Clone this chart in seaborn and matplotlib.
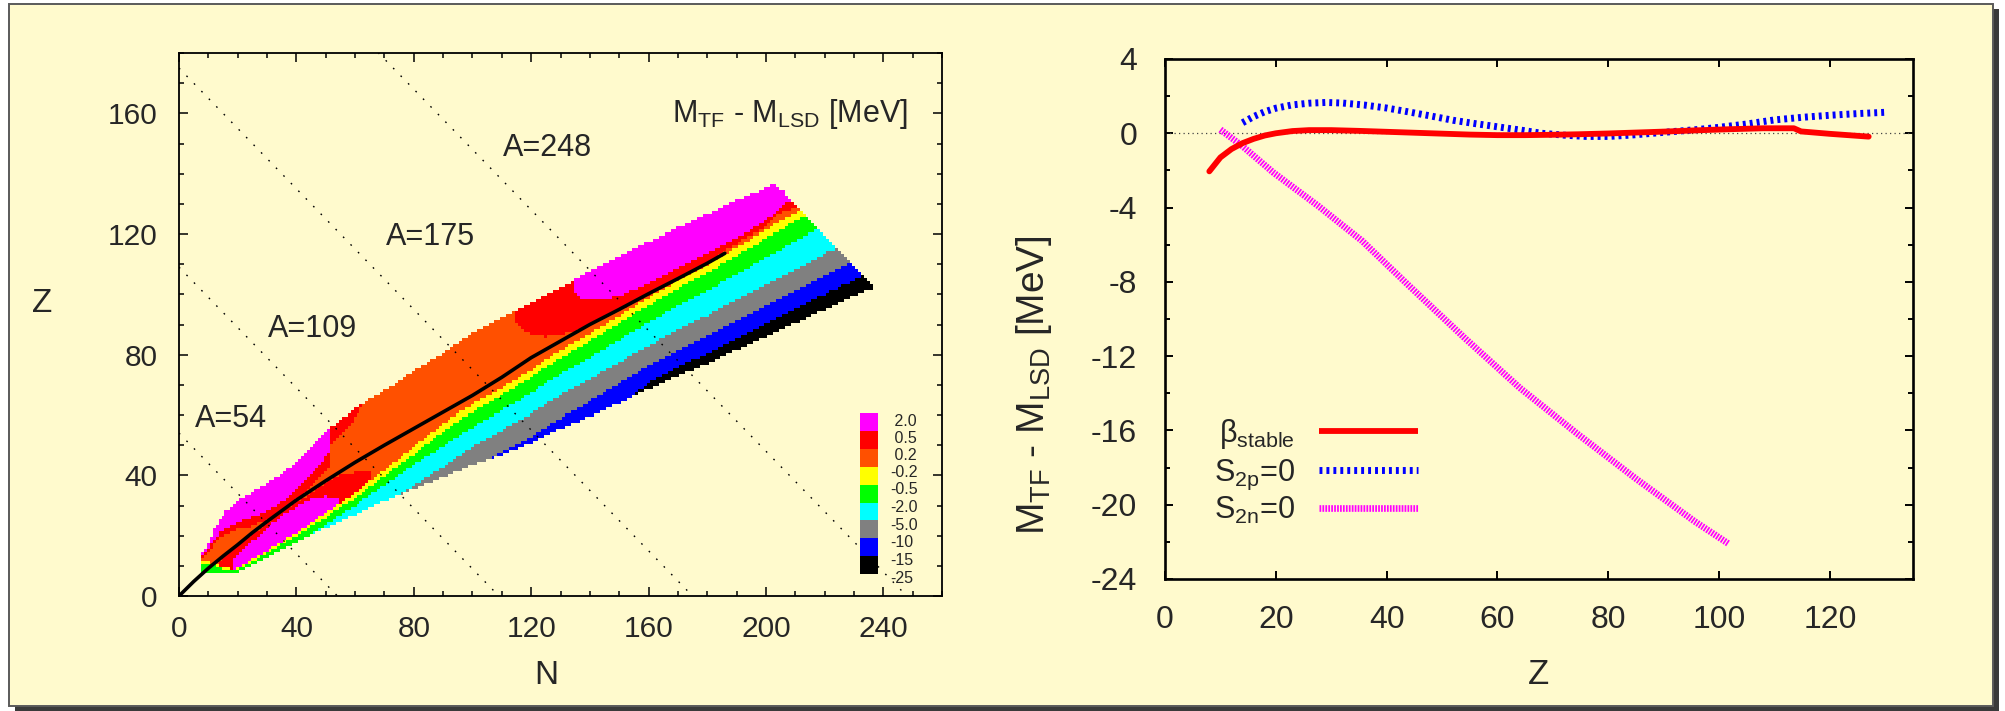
import numpy as np
import pandas as pd
import matplotlib
matplotlib.use("Agg")
import matplotlib.pyplot as plt
import seaborn as sns
from matplotlib.colors import ListedColormap, BoundaryNorm
from matplotlib.patches import Rectangle
from matplotlib.lines import Line2D

# ------------------------------------------------------------------ data
# colour classes of M_TF - M_LSD (low -> high)
class_colors = ["#000000", "#0000FF", "#808080", "#00FFFF", "#00FF00",
                "#FFFF00", "#FF5000", "#FF0000", "#FF00FF"]
class_labels = [" 2.0", " 0.5", " 0.2", "-0.2", "-0.5", "-2.0", "-5.0", "-10", "-15", "-25"]

# outline of the calculated region (per neutron number N)
edge_N = [8, 10, 12, 14, 16, 19, 20, 25, 30, 35, 40, 45, 50, 55, 60, 70, 80, 90, 100,
          110, 120, 130, 135, 140, 150, 160, 170, 180, 190, 200, 203, 206, 210, 220, 230, 236]
edge_top = [14.3, 17.5, 22, 25.5, 28, 30.5, 31.5, 34.5, 37.5, 40.5, 44.5, 49, 54.5, 58.5, 62,
            68, 74.5, 80.5, 87, 92, 97, 102, 105, 107.5, 112.5, 117.5, 122, 126.5, 131, 135,
            136.5, 134, 129.5, 119.5, 109.5, 103.5]
edge_bot = [7.6, 7.6, 7.6, 7.6, 7.6, 7.6, 8, 10.5, 13, 15.5, 18, 20.5, 22.5, 25, 27, 31.5,
            35.5, 39.5, 43.5, 47, 51, 55.5, 57.5, 59.5, 64, 68.5, 73, 77, 81.5, 86, 87.3,
            88.6, 90.5, 95, 99.5, 102]

# neutron-rich stripes: height above the lower edge where each class ends
band_N = [8, 12, 16, 20, 25, 30, 35, 40, 45, 50, 55, 60, 70, 75, 80, 90, 100, 105, 110,
          120, 130, 140, 150, 155, 160, 170, 180, 190, 200, 210, 220, 230, 236]
h_black = [0, 0, 0, 0, 0, 0, 0, 0, 0, 0, 0, 0, 0, 0, 0, 0, 0, 0, 0,
           0, 0, 0, 0, 0, 2.2, 2.8, 3.3, 3.8, 4.3, 4.7, 5.0, 5.5, 5.5]
h_blue = [0, 0, 0, 0, 0, 0, 0, 0, 0, 0, 0, 0, 0, 0, 0, 0, 0, 0, 0.6,
          2, 3.5, 5, 6.5, 7.1, 7.7, 8.5, 9.2, 9.8, 10.3, 10.8, 11.2, 11.5, 11.6]
h_gray = [0, 0, 0, 0, 0, 0, 0, 0, 0, 0, 0, 0, 0, 0, 1, 3.5, 6, 7, 8,
          9.5, 11, 12.3, 13.4, 13.9, 14.4, 15.2, 16, 16.7, 17.3, 17.9, 18.5, 19, 19.3]
h_cyan = [0, 0, 0, 0, 0, 0, 0, 0, 0, 1, 2, 3, 5.5, 6.8, 8, 10.3, 12.5, 13.5, 14.5,
          16.3, 18, 19.5, 21, 21.6, 22.2, 23.3, 24.3, 25.3, 26.3, 27.2, 28, 28.8, 29.2]
h_green = [3, 2.5, 0.8, 0.5, 0.8, 1.2, 1.6, 2, 2.6, 3.5, 4.5, 5.5, 8.5, 10, 11.5, 15, 17.5,
           18.5, 19.5, 21.5, 23.3, 25, 26.5, 27.2, 27.8, 29, 30.2, 31.4, 32.6, 33.7, 34.8,
           35.8, 36.4]
h_yellow = [3.8, 3.2, 1.5, 1.2, 1.6, 2, 2.5, 3, 3.8, 4.8, 6, 7.2, 10.5, 12.2, 14, 17.8, 20,
            21, 22, 24, 25.8, 27.5, 29, 29.7, 30.4, 31.7, 33, 34.2, 35.4, 36.5, 37.6, 38.6,
            39.2]

# proton-rich layers at the upper edge (light nuclei): thickness below the edge
top_N = [8, 10, 12, 16, 20, 25, 30, 35, 40, 45, 50, 51, 52, 55, 60, 63]
mag_thick = [1, 2, 3.5, 5.5, 7, 8.5, 9.5, 9.5, 9, 9, 8.5, 8, 0, 0, 0, 0]
red_thick = [1, 1, 1.5, 2, 2.5, 2.8, 2.8, 3.2, 3.5, 4, 4.5, 5, 6, 5, 3, 0]

# islands below the stability line (light nuclei)
isl_red_N = [14, 16, 19, 25, 30, 35, 40, 45, 50, 55, 60, 65]
isl_red_lo = [8, 8, 8, 9.5, 12, 15, 18.5, 21, 23.5, 26.5, 31, 36.5]
isl_red_hi = [11.5, 13.5, 16, 20.5, 24, 28, 31, 34, 37.5, 40, 41, 41]
isl_mag_N = [19, 20, 25, 30, 35, 40, 45, 50, 54]
isl_mag_lo = [8, 8.3, 10.5, 13.5, 17, 19.5, 21.5, 25, 29.5]
isl_mag_hi = [12, 13.5, 18, 22.5, 26.5, 29.5, 32, 33, 32.5]

# heavy nuclei: red and magenta zones (from lower limit up to the edge)
hr_N = [115, 117, 120, 125, 130, 135, 140, 145, 150, 160, 170, 180, 186, 190, 200, 205, 210, 215]
hr_lo = [91, 88.5, 86.5, 86, 86.5, 88, 90, 92.5, 95, 100, 105.3, 110.5, 114.5, 117, 122.5,
         127, 128.5, 129]
hm_N = [135, 137, 140, 145, 150, 155, 160, 170, 180, 190, 200, 205, 208]
hm_lo = [100.5, 99, 98.5, 98.5, 99.5, 101.4, 103.8, 108.8, 113.7, 118.8, 124.3, 128.5, 131]

# beta-stability line
stab_N = [0, 5, 10, 15, 20, 25, 30, 40, 50, 60, 70, 80, 90, 100, 110, 120, 130, 140, 150,
          160, 170, 180, 186]
stab_Z = [0, 4.8, 9.2, 13.2, 17, 21, 24.7, 31.8, 38.2, 44.3, 50, 55.5, 61, 66.5, 72.5, 79,
          84.5, 90, 95, 100.2, 105.2, 110.3, 113.6]

# constant-A lines
iso_A = [54, 109, 175, 248]
iso_label_pos = [(5.5, 56.1), (30.4, 85.9), (70.4, 116.2), (110.3, 146.0)]

# right panel curves
beta_Z = [8, 10, 12, 14, 16, 18, 20, 23, 26, 30, 35, 40, 45, 50, 55, 60, 65, 70, 75, 80, 85,
          90, 96, 102, 108, 113.5, 114.8, 120, 127]
beta_M = [-2.05, -1.3, -0.85, -0.53, -0.3, -0.12, 0.0, 0.12, 0.17, 0.17, 0.13, 0.08, 0.03,
          -0.02, -0.07, -0.1, -0.1, -0.08, -0.05, -0.01, 0.04, 0.09, 0.16, 0.22, 0.27, 0.27,
          0.1, -0.03, -0.18]
s2p_Z = [14, 16, 18, 20, 23, 26, 29, 32, 36, 40, 44, 48, 52, 56, 60, 64, 68, 72, 76, 80, 84,
         88, 92, 96, 100, 105, 110, 115, 120, 125, 130]
s2p_M = [0.57, 0.9, 1.16, 1.35, 1.53, 1.62, 1.66, 1.63, 1.52, 1.36, 1.15, 0.93, 0.7, 0.52,
         0.35, 0.18, 0.0, -0.1, -0.17, -0.17, -0.1, 0.0, 0.1, 0.2, 0.32, 0.5, 0.72, 0.86,
         0.97, 1.06, 1.13]
s2n_Z = [10, 14, 19.5, 27.6, 35.6, 44, 54, 64, 74.5, 85, 95.6, 101.7]
s2n_M = [0.2, -0.7, -2.1, -3.9, -5.8, -8.2, -11.0, -13.7, -16.2, -18.6, -20.9, -22.1]

# ------------------------------------------------------------------ style
sns.set_theme(style="ticks")
plt.rcParams["font.family"] = ["Liberation Sans", "DejaVu Sans"]
plt.rcParams["mathtext.fontset"] = "custom"
plt.rcParams["mathtext.rm"] = "Liberation Sans"
plt.rcParams["mathtext.it"] = "Liberation Sans:italic"
plt.rcParams["mathtext.bf"] = "Liberation Sans:bold"
plt.rcParams["mathtext.default"] = "regular"
plt.rcParams["axes.unicode_minus"] = False

W, H = 2006, 711
def fx(x):
    return x / W
def fy(y):
    return 1 - y / H

BG = "#FFFACD"
fig = plt.figure(figsize=(W / 100, H / 100), dpi=100)
fig.patch.set_facecolor("white")
fig.add_artist(Rectangle((fx(15), fy(711)), (1999 - 15) / W, (711 - 9) / H,
                         transform=fig.transFigure, facecolor="#3a3a3a",
                         edgecolor="none", zorder=-20))
fig.add_artist(Rectangle((fx(9), fy(706)), (1993 - 9) / W, (706 - 4) / H,
                         transform=fig.transFigure, facecolor=BG,
                         edgecolor="#5a5a5a", lw=1.4, zorder=-10))

ax1 = fig.add_axes([fx(179), fy(596), (942 - 179) / W, (596 - 53) / H])
ax2 = fig.add_axes([fx(1165), fy(579), (1913 - 1165) / W, (579 - 59) / H])
for ax in (ax1, ax2):
    ax.set_facecolor("none")

# ------------------------------------------------------------------ left map
nmax, zmax = 260, 180
code = np.full((zmax + 1, nmax + 1), np.nan)


def at(n, xs, ys, fill=np.nan):
    return float(np.interp(n, xs, ys, left=fill, right=fill))


for n in range(edge_N[0], edge_N[-1] + 1):
    zt = at(n, edge_N, edge_top)
    zb = at(n, edge_N, edge_bot)
    tm = at(n, top_N, mag_thick, 0)
    tr = at(n, top_N, red_thick, 0)
    ir = (at(n, isl_red_N, isl_red_lo), at(n, isl_red_N, isl_red_hi))
    im = (at(n, isl_mag_N, isl_mag_lo), at(n, isl_mag_N, isl_mag_hi))
    hr = at(n, hr_N, hr_lo)
    hm = at(n, hm_N, hm_lo)
    hb = [at(n, band_N, hh, 0) for hh in (h_black, h_blue, h_gray, h_cyan, h_green, h_yellow)]
    for z in range(int(np.ceil(zb)), int(np.floor(zt)) + 1):
        c = 6
        if z > zt - tm:
            c = 8
        elif z > zt - tm - tr:
            c = 7
        if ir[0] <= z <= ir[1]:
            c = 7
        if im[0] <= z <= im[1]:
            c = 8
        if z >= hr:
            c = 7
        if z >= hm:
            c = 8
        h = z - zb
        for k, hk in enumerate(hb):
            if h < hk:
                c = k
                break
        code[z, n] = c

cmap = ListedColormap(class_colors)
norm = BoundaryNorm(np.arange(-0.5, 9.5, 1.0), cmap.N)
ax1.pcolormesh(np.arange(nmax + 2) - 0.5, np.arange(zmax + 2) - 0.5,
               np.ma.masked_invalid(code), cmap=cmap, norm=norm,
               antialiased=False, zorder=1)

for A in iso_A:
    ax1.plot([0, A], [A, 0], color="black", lw=1.0, linestyle=(0, (1.2, 6.5)), zorder=3)
for A, (xn, zz) in zip(iso_A, iso_label_pos):
    ax1.text(xn, zz, f"A={A}", fontsize=22, ha="left", va="baseline", zorder=5)

stab = pd.DataFrame({"N": stab_N, "Z": stab_Z})
sns.lineplot(data=stab, x="N", y="Z", ax=ax1, color="black", lw=2.6, sort=False,
             estimator=None, zorder=4)

ax1.text(248.4, 157.1, r"M$_{\mathrm{TF}}$ - M$_{\mathrm{LSD}}$ [MeV]", fontsize=22,
         ha="right", va="baseline", zorder=5)

ax1.set_xlim(0, 260)
ax1.set_ylim(0, 180)
ax1.set_xticks(np.arange(0, 241, 40))
ax1.set_yticks(np.arange(0, 161, 40))
ax1.set_xticks(np.arange(0, 261, 10), minor=True)
ax1.set_yticks(np.arange(0, 181, 10), minor=True)
ax1.tick_params(which="both", direction="in", top=True, right=True, width=1.1,
                color="black")
ax1.tick_params(which="major", length=6.5, labelsize=21.5)
ax1.tick_params(which="minor", length=3.4)
ax1.tick_params(axis="x", which="major", pad=13.5)
ax1.tick_params(axis="y", which="major", pad=15.5)
ax1.set_xlabel("")
ax1.set_ylabel("")
for sp in ax1.spines.values():
    sp.set_linewidth(1.3)
    sp.set_color("black")
    sp.set_visible(True)

fig.text(fx(42), fy(303), "Z", fontsize=24, ha="center", va="center")
fig.text(fx(546), fy(675), "N", fontsize=24, ha="center", va="center")

# colour key of the map
box_top, box_h = 413.3, 17.85
for i, col in enumerate(class_colors[::-1]):
    fig.add_artist(Rectangle((fx(860), fy(box_top + (i + 1) * box_h)), 18 / W, box_h / H,
                             transform=fig.transFigure, facecolor=col,
                             edgecolor="none", zorder=6))
lab_y = [421.7, 438.3, 455, 472.7, 490, 507.3, 525, 542.7, 560.7, 578.3]
for lab, yy in zip(class_labels, lab_y):
    fig.text(fx(890), fy(yy), lab, fontsize=11.5, ha="left", va="center", zorder=6)

# ------------------------------------------------------------------ right panel
MAG_LS = (0, (0.26, 0.18))
BLUE_LS = (0, (0.42, 0.58))
ax2.axhline(0, color="#444444", lw=0.9, linestyle=(0, (1, 2.6)), zorder=1)
sns.lineplot(x=s2n_Z, y=s2n_M, ax=ax2, color="#FF00FF", lw=4.8,
             linestyle=MAG_LS, dash_capstyle="butt", estimator=None, zorder=2)
sns.lineplot(x=s2p_Z, y=s2p_M, ax=ax2, color="#0000FF", lw=5.0,
             linestyle=BLUE_LS, dash_capstyle="butt", estimator=None, zorder=3)
sns.lineplot(x=beta_Z, y=beta_M, ax=ax2, color="#FF0000", lw=4.2, estimator=None,
             zorder=4)

ax2.set_xlim(0, 135)
ax2.set_ylim(-24, 4)
ax2.set_xticks(np.arange(0, 121, 20))
ax2.set_yticks(np.arange(-24, 5, 4))
ax2.set_yticks(np.arange(-24, 5, 2), minor=True)
ax2.tick_params(which="both", direction="in", top=True, right=True, width=1.4,
                color="black")
ax2.tick_params(which="major", length=5.8, labelsize=23)
ax2.tick_params(which="minor", length=3.6)
ax2.tick_params(axis="x", which="major", pad=18.5)
ax2.tick_params(axis="y", which="major", pad=20)
ax2.set_xlabel("")
ax2.set_ylabel("")
for sp in ax2.spines.values():
    sp.set_linewidth(1.9)
    sp.set_color("black")
    sp.set_visible(True)

fig.text(fx(1539), fy(675), "Z", fontsize=25, ha="center", va="center")
fig.text(fx(1034), fy(385), r"M$_{\mathrm{TF}}$ - M$_{\mathrm{LSD}}$ [MeV]", fontsize=28,
         ha="center", va="center", rotation=90)

# legend of the right panel
leg = [("β$_{\\mathrm{stable}}$", "#FF0000", "-", 4.2),
       ("S$_{\\mathrm{2p}}$=0", "#0000FF", BLUE_LS, 5.0),
       ("S$_{\\mathrm{2n}}$=0", "#FF00FF", MAG_LS, 4.8)]
for (lab, col, ls, lw), yy in zip(leg, [431, 469.5, 508]):
    fig.add_artist(Line2D([fx(1319), fx(1418)], [fy(yy), fy(yy)], transform=fig.transFigure,
                          color=col, lw=lw, linestyle=ls, dash_capstyle="butt",
                          solid_capstyle="butt", zorder=6))
    fig.text(fx(1295), fy(yy + 11), lab, fontsize=22, ha="right", va="baseline", zorder=6)

fig.savefig("out.png", dpi=100, facecolor=fig.get_facecolor())
